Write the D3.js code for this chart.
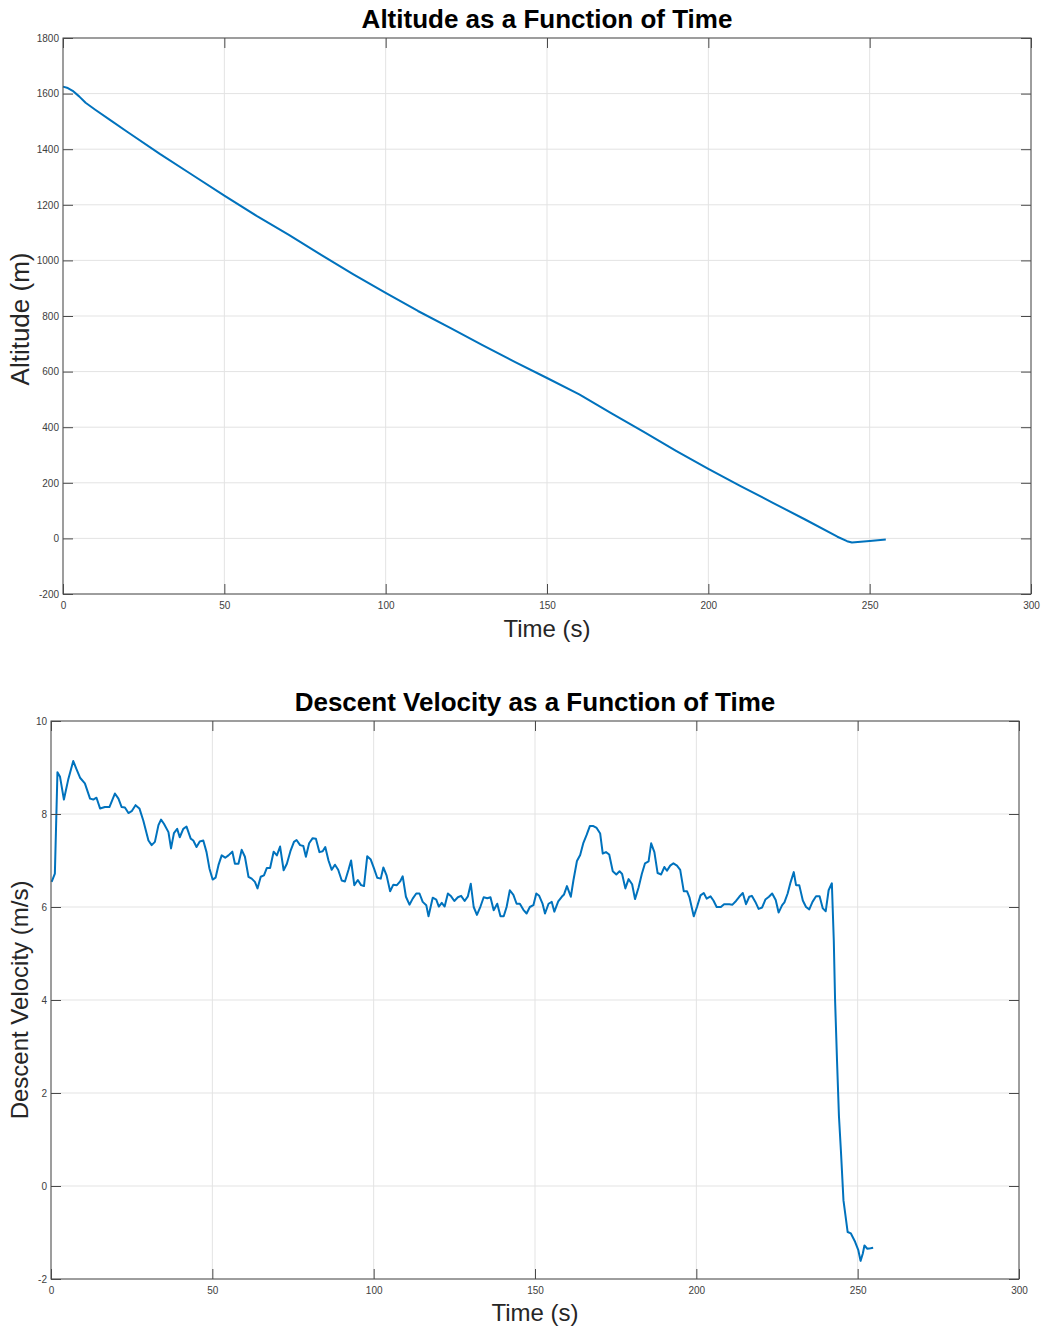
<!DOCTYPE html>
<html>
<head>
<meta charset="utf-8">
<script src="https://cdn.jsdelivr.net/npm/d3@7"></script>
<style>
  body { margin: 0; background: #fff; }
  svg { display: block; font-family: "Liberation Sans", Arial, Helvetica, sans-serif; }
</style>
</head>
<body>
<div id="chart"></div>
<script>
// altitude readings (s, m)
const altTime = [0, 1.5, 3, 5, 7, 10, 15, 20, 30, 40, 50, 60, 70, 80, 90, 100, 110, 120, 130, 140,
  150, 160, 165, 170, 180, 190, 200, 210, 220, 230, 240, 243, 244.5, 250, 255];
const altitude = [1625, 1620, 1610, 1590, 1567, 1542, 1502, 1462, 1383, 1308, 1233, 1160, 1092, 1020, 950, 883,
  818, 757, 695, 635, 577, 518, 484, 450, 383, 315, 250, 188, 128, 68, 6, -10, -15, -9, -4];

// descent velocity readings (s, m/s)
const velTime = [0.2, 1.2, 2.0, 2.8, 4.0, 5.4, 6.9, 7.8, 9.0, 10.5, 12.1, 13.1, 14.1, 15.2, 16.7, 18.1, 19.8, 20.9,
  21.9, 22.9, 24.0, 25.0, 26.2, 27.4, 28.6, 30.2, 31.2, 32.2, 33.3, 34.1, 35.0, 36.4, 37.2, 38.1, 39.1, 39.9,
  41.0, 42.0, 43.3, 44.1, 45.1, 46.1, 47.2, 48.2, 49.1, 50.1, 51.0, 51.9, 52.9, 54.0, 55.0, 56.2, 57.0, 58.1,
  59.1, 60.1, 61.2, 62.2, 63.2, 64.0, 65.0, 66.0, 66.9, 67.9, 69.0, 70.0, 71.0, 72.1, 73.1, 74.2, 75.3, 76.1,
  77.2, 78.2, 79.0, 80.0, 81.1, 82.1, 83.2, 84.2, 85.0, 86.0, 87.0, 88.0, 89.0, 90.1, 91.1, 92.2, 93.0, 94.0,
  95.1, 96.1, 97.0, 98.0, 99.1, 100.1, 101.1, 102.2, 103.0, 104.0, 105.1, 106.1, 107.2, 108.2, 109.0, 110.0,
  111.1, 112.1, 113.2, 114.2, 115.2, 116.3, 117.0, 118.3, 119.4, 120.2, 121.1, 122.0, 123.0, 124.0, 125.0,
  126.1, 127.1, 128.2, 129.2, 130.1, 131.0, 132.0, 133.1, 134.1, 135.2, 136.2, 137.2, 138.3, 139.3, 140.3,
  141.2, 142.2, 143.3, 144.3, 145.3, 146.4, 147.4, 148.4, 149.5, 150.4, 151.3, 152.3, 153.1, 154.2, 155.2,
  156.0, 157.2, 158.3, 159.0, 159.9, 161.1, 161.9, 163.0, 164.0, 165.0, 166.0, 167.0, 168.1, 169.1, 170.2,
  171.0, 172.0, 173.0, 174.1, 175.2, 176.2, 177.0, 178.0, 179.0, 180.1, 181.0, 182.1, 183.1, 184.1, 185.2,
  186.0, 187.0, 188.0, 189.1, 190.1, 190.9, 191.9, 192.9, 194.0, 195.0, 196.1, 197.1, 197.9, 199.2, 200.2,
  201.3, 202.3, 203.2, 204.4, 205.3, 206.3, 207.6, 208.6, 210.2, 211.2, 212.3, 213.3, 214.4, 215.4, 216.4,
  217.2, 218.3, 219.3, 220.4, 221.4, 222.5, 223.5, 224.6, 225.5, 226.6, 227.3, 228.3, 229.2, 230.2, 230.9,
  231.9, 233.0, 234.0, 235.0, 236.0, 237.1, 238.2, 239.2, 240.1, 241.0, 242.0, 242.6, 243.0, 243.6, 244.2,
  244.8, 245.6, 246.9, 247.9, 249.2, 250.2, 250.9, 251.6, 252.1, 253.0, 254.0, 254.8];
const velocity = [6.54, 6.72, 8.90, 8.80, 8.31, 8.76, 9.14, 8.98, 8.78, 8.66, 8.33, 8.31, 8.35, 8.12, 8.15, 8.15,
  8.44, 8.33, 8.15, 8.14, 8.02, 8.06, 8.19, 8.12, 7.86, 7.43, 7.33, 7.40, 7.76, 7.88, 7.79, 7.61, 7.26, 7.59,
  7.68, 7.50, 7.68, 7.73, 7.47, 7.43, 7.29, 7.41, 7.43, 7.18, 6.83, 6.59, 6.63, 6.90, 7.11, 7.06, 7.11, 7.19,
  6.93, 6.93, 7.23, 7.08, 6.65, 6.61, 6.54, 6.40, 6.65, 6.68, 6.84, 6.84, 7.19, 7.11, 7.30, 6.79, 6.93, 7.20,
  7.40, 7.44, 7.33, 7.31, 7.08, 7.37, 7.48, 7.47, 7.18, 7.20, 7.29, 7.00, 6.80, 6.91, 6.80, 6.57, 6.55, 6.80,
  7.00, 6.47, 6.58, 6.47, 6.45, 7.09, 7.02, 6.83, 6.63, 6.61, 6.85, 6.68, 6.34, 6.48, 6.47, 6.55, 6.66, 6.22,
  6.05, 6.18, 6.29, 6.29, 6.11, 6.04, 5.80, 6.20, 6.16, 6.01, 6.09, 6.01, 6.29, 6.23, 6.13, 6.21, 6.24, 6.13,
  6.23, 6.50, 6.00, 5.83, 6.01, 6.21, 6.19, 6.21, 5.93, 6.07, 5.80, 5.80, 6.00, 6.36, 6.26, 6.07, 6.07, 5.94,
  5.86, 6.00, 6.04, 6.29, 6.24, 6.08, 5.86, 6.07, 6.11, 5.90, 6.12, 6.22, 6.27, 6.45, 6.22, 6.57, 6.99, 7.12,
  7.38, 7.55, 7.74, 7.74, 7.70, 7.58, 7.15, 7.18, 7.13, 6.77, 6.70, 6.77, 6.71, 6.40, 6.60, 6.49, 6.17, 6.42,
  6.71, 6.94, 6.98, 7.37, 7.18, 6.73, 6.70, 6.86, 6.78, 6.89, 6.94, 6.89, 6.80, 6.34, 6.34, 6.20, 5.80, 6.00,
  6.25, 6.30, 6.18, 6.23, 6.14, 6.00, 6.00, 6.06, 6.06, 6.05, 6.13, 6.22, 6.30, 6.06, 6.22, 6.24, 6.11, 5.96,
  5.99, 6.16, 6.22, 6.29, 6.15, 5.88, 6.04, 6.10, 6.29, 6.53, 6.75, 6.47, 6.47, 6.14, 6.00, 5.95, 6.11, 6.23,
  6.23, 5.97, 5.91, 6.36, 6.51, 5.28, 4.00, 2.70, 1.50, 0.77, -0.31, -0.99, -1.02, -1.20, -1.38, -1.61, -1.45,
  -1.28, -1.35, -1.34, -1.33];

const xTicks = [0, 50, 100, 150, 200, 250, 300];
const altTicks = [-200, 0, 200, 400, 600, 800, 1000, 1200, 1400, 1600, 1800];
const velTicks = [-2, 0, 2, 4, 6, 8, 10];

const W = 1044, H = 1330;
const svg = d3.select("#chart").append("svg")
  .attr("width", W)
  .attr("height", H);

// plain "-200", no thousands separator
const plain = d => String(d);

function drawPanel(opt) {
  const { left, right, top, bottom } = opt.box;
  const x = d3.scaleLinear().domain([0, 300]).range([left, right]);
  const y = d3.scaleLinear().domain(opt.yDomain).range([bottom, top]);
  const g = svg.append("g");

  // grid
  g.append("g")
    .selectAll("line")
    .data(xTicks)
    .join("line")
    .attr("x1", d => x(d)).attr("x2", d => x(d))
    .attr("y1", top).attr("y2", bottom)
    .attr("stroke", "#e3e3e3");
  g.append("g")
    .selectAll("line")
    .data(opt.yTicks)
    .join("line")
    .attr("x1", left).attr("x2", right)
    .attr("y1", d => y(d)).attr("y2", d => y(d))
    .attr("stroke", "#e3e3e3");

  // data
  const line = d3.line()
    .x(d => x(d[0]))
    .y(d => y(d[1]));
  g.append("path")
    .datum(d3.zip(opt.xs, opt.ys))
    .attr("d", line)
    .attr("fill", "none")
    .attr("stroke", "#0072BD")
    .attr("stroke-width", 2)
    .attr("stroke-linejoin", "round");

  // axes, ticks pointing inward
  const styleAxis = sel => {
    sel.select(".domain").remove();
    sel.selectAll(".tick line").attr("stroke", "#4a4a4a");
    sel.selectAll(".tick text")
      .attr("fill", "#404040")
      .style("font-size", "10px")
      .style("font-family", '"Liberation Sans", Arial, sans-serif');
  };
  g.append("g")
    .attr("transform", `translate(0,${bottom})`)
    .call(d3.axisBottom(x).tickValues(xTicks).tickSize(-10).tickPadding(8).tickFormat(plain))
    .call(styleAxis);
  g.append("g")
    .attr("transform", `translate(0,${top})`)
    .call(d3.axisTop(x).tickValues(xTicks).tickSize(-10).tickFormat(""))
    .call(styleAxis);
  g.append("g")
    .attr("transform", `translate(${left},0)`)
    .call(d3.axisLeft(y).tickValues(opt.yTicks).tickSize(-10).tickPadding(4).tickFormat(plain))
    .call(styleAxis);
  g.append("g")
    .attr("transform", `translate(${right},0)`)
    .call(d3.axisRight(y).tickValues(opt.yTicks).tickSize(-10).tickFormat(""))
    .call(styleAxis);

  g.append("rect")
    .attr("x", left).attr("y", top)
    .attr("width", right - left).attr("height", bottom - top)
    .attr("fill", "none")
    .attr("stroke", "#4a4a4a")
    .attr("stroke-width", 1);

  // texts
  g.append("text")
    .attr("x", (left + right) / 2)
    .attr("y", opt.titleY)
    .attr("text-anchor", "middle")
    .style("font-size", "26px")
    .style("font-weight", "bold")
    .attr("fill", "#000")
    .text(opt.title);
  g.append("text")
    .attr("x", (left + right) / 2)
    .attr("y", opt.xLabelY)
    .attr("text-anchor", "middle")
    .style("font-size", "24px")
    .attr("fill", "#262626")
    .text("Time (s)");
  g.append("text")
    .attr("transform", `translate(${opt.yLabelX},${opt.yLabelMid}) rotate(-90)`)
    .attr("text-anchor", "middle")
    .style("font-size", opt.yLabelSize)
    .attr("fill", "#262626")
    .text(opt.yLabel);
}

drawPanel({
  box: { left: 63, right: 1031, top: 38, bottom: 594 },
  yDomain: [-200, 1800],
  yTicks: altTicks,
  xs: altTime,
  ys: altitude,
  title: "Altitude as a Function of Time",
  titleY: 28,
  xLabelY: 637,
  yLabel: "Altitude (m)",
  yLabelX: 29,
  yLabelMid: 319,
  yLabelSize: "26px"
});

drawPanel({
  box: { left: 51, right: 1019, top: 721, bottom: 1279 },
  yDomain: [-2, 10],
  yTicks: velTicks,
  xs: velTime,
  ys: velocity,
  title: "Descent Velocity as a Function of Time",
  titleY: 711,
  xLabelY: 1321,
  yLabel: "Descent Velocity (m/s)",
  yLabelX: 28,
  yLabelMid: 1000,
  yLabelSize: "24px"
});
</script>
</body>
</html>
